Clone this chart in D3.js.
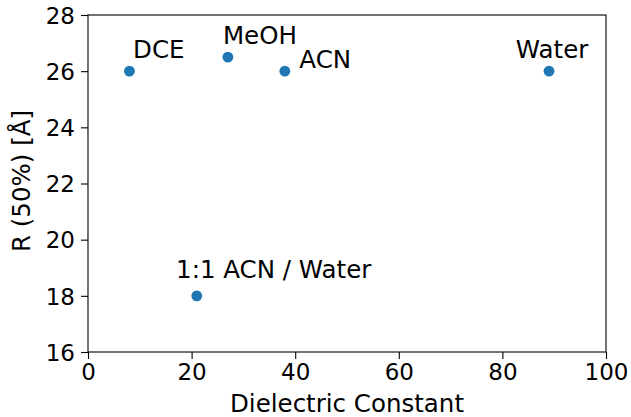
<!DOCTYPE html>
<html>
<head>
<meta charset="utf-8">
<script src="https://cdn.jsdelivr.net/npm/d3@7"></script>
<style>
  body { margin: 0; background: #fff; }
  text { font-family: "DejaVu Sans", sans-serif; fill: #000; }
</style>
</head>
<body>
<div id="chart"></div>
<script>
// Solvents, their dielectric constant and R(50%)
var solvents = ["DCE", "MeOH", "ACN", "1:1 ACN / Water", "Water"];
var dielectric = [8, 27, 38, 21, 89];
var r50 = [26, 26.5, 26, 18, 26];

// where each annotation text sits, in data units (left, baseline)
var labelX = [8.7, 26.05, 40.8, 17.0, 82.6];
var labelY = [26.47, 26.96, 26.1, 18.65, 26.47];

var xTicks = [0, 20, 40, 60, 80, 100];
var yTicks = [16, 18, 20, 22, 24, 26, 28];

var width = 631;
var height = 417;
var margin = { top: 15, right: 25, bottom: 65, left: 88 };
var labelSize = 24.5;
var tickSize = 23;

var svg = d3.select("#chart")
  .append("svg")
  .attr("width", width)
  .attr("height", height);

var xScale = d3.scaleLinear()
  .domain([0, 100])
  .range([margin.left, width - margin.right]);

var yScale = d3.scaleLinear()
  .domain([16, 28])
  .range([height - margin.bottom, margin.top]);

// Axes
var bottomAxis = d3.axisBottom(xScale).tickValues(xTicks).tickSize(7).tickPadding(5);
var leftAxis = d3.axisLeft(yScale).tickValues(yTicks).tickSize(7).tickPadding(6);

var gx = svg.append("g")
  .attr("transform", "translate(0," + (height - margin.bottom) + ")")
  .call(bottomAxis);
var gy = svg.append("g")
  .attr("transform", "translate(" + margin.left + ",0)")
  .call(leftAxis);

[gx, gy].forEach(function(g) {
  g.select(".domain").remove();
  g.selectAll(".tick line").attr("stroke", "#000").attr("stroke-width", 1.1);
  g.selectAll(".tick text").attr("font-size", tickSize).attr("font-family", "DejaVu Sans");
});
gy.selectAll(".tick text").attr("dy", "0.36em");

// Frame around the plot
svg.append("rect")
  .attr("x", margin.left)
  .attr("y", margin.top)
  .attr("width", width - margin.left - margin.right)
  .attr("height", height - margin.top - margin.bottom)
  .attr("fill", "none")
  .attr("stroke", "#000")
  .attr("stroke-width", 1.1);

// Points
svg.append("g")
  .selectAll("circle")
  .data(solvents)
  .enter()
  .append("circle")
  .attr("cx", function(d, i) { return xScale(dielectric[i]); })
  .attr("cy", function(d, i) { return yScale(r50[i]); })
  .attr("r", 5.4)
  .attr("fill", "#1f77b4");

// Annotations
svg.append("g")
  .selectAll("text")
  .data(solvents)
  .enter()
  .append("text")
  .attr("x", function(d, i) { return xScale(labelX[i]); })
  .attr("y", function(d, i) { return yScale(labelY[i]); })
  .attr("font-size", labelSize)
  .text(function(d) { return d; });

// Axis labels
svg.append("text")
  .attr("x", (margin.left + width - margin.right) / 2)
  .attr("y", 412)
  .attr("text-anchor", "middle")
  .attr("font-size", labelSize)
  .text("Dielectric Constant");

svg.append("text")
  .attr("transform", "translate(30,181)rotate(-90)")
  .attr("text-anchor", "middle")
  .attr("font-size", labelSize)
  .text("R (50%) [Å]");
</script>
</body>
</html>
